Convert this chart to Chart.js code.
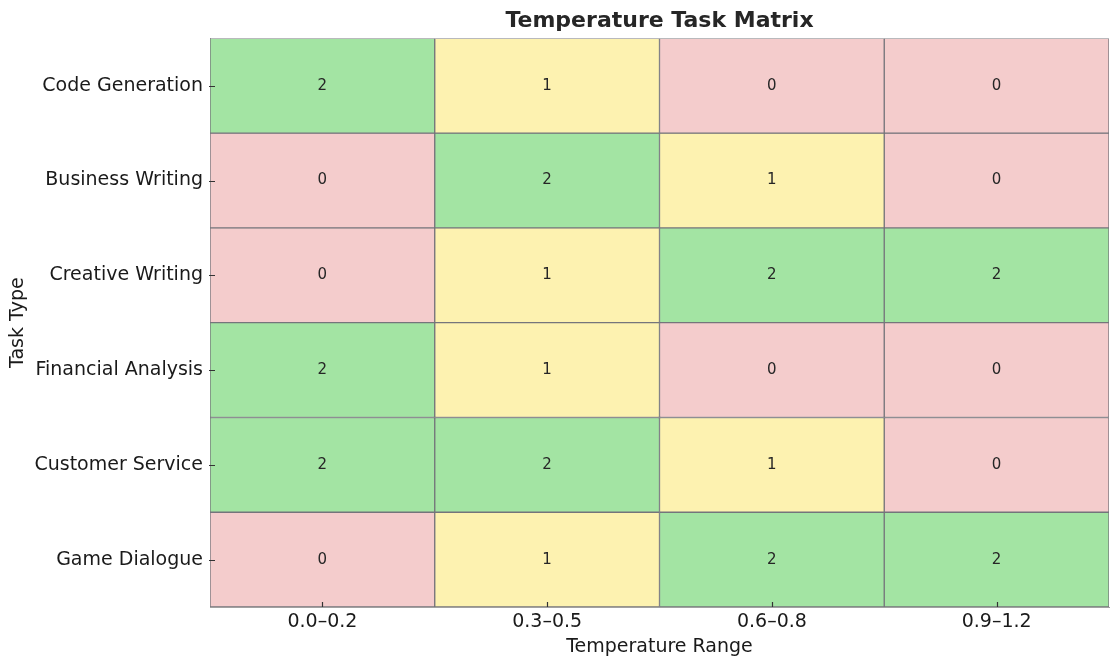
<!DOCTYPE html>
<html>
<head>
<meta charset="utf-8">
<script src="https://cdn.jsdelivr.net/npm/chart.js@4.4.1/dist/chart.umd.min.js"></script>
<style>
  html, body { margin: 0; padding: 0; background: #fff; }
  #wrap { width: 1120px; height: 668px; }
</style>
</head>
<body>
<div id="wrap"><canvas id="matrixChart"></canvas></div>
<script>
const temperatureRanges = ['0.0–0.2', '0.3–0.5', '0.6–0.8', '0.9–1.2'];
const taskTypes = ['Code Generation', 'Business Writing', 'Creative Writing', 'Financial Analysis', 'Customer Service', 'Game Dialogue'];

// suitability score per task, one per temperature range
const codeGeneration = [2, 1, 0, 0];
const businessWriting = [0, 2, 1, 0];
const creativeWriting = [0, 1, 2, 2];
const financialAnalysis = [2, 1, 0, 0];
const customerService = [2, 2, 1, 0];
const gameDialogue = [0, 1, 2, 2];

const scoreRows = [codeGeneration, businessWriting, creativeWriting, financialAnalysis, customerService, gameDialogue];
const scoreColors = ['#f4cccc', '#fdf2b0', '#a3e4a3'];

Chart.defaults.font.family = '"DejaVu Sans", sans-serif';
Chart.defaults.color = '#1a1a1a';

// one floating bar dataset per task row; bars span row i .. i+1
const datasets = scoreRows.map((scores, row) => ({
    label: taskTypes[row],
    data: scores.map(() => [row, row + 1]),
    scores: scores,
    backgroundColor: scores.map(s => scoreColors[s]),
    borderColor: '#75757b',
    borderWidth: 1,
    borderSkipped: false,
    grouped: false,
    barPercentage: 1,
    categoryPercentage: 1,
}));

const cellLabels = {
    id: 'cellLabels',
    afterDatasetsDraw(chart) {
        const ctx = chart.ctx;
        ctx.save();
        ctx.font = '15px "DejaVu Sans", sans-serif';
        ctx.fillStyle = '#262626';
        ctx.textAlign = 'center';
        ctx.textBaseline = 'middle';
        chart.data.datasets.forEach((ds, i) => {
            chart.getDatasetMeta(i).data.forEach((bar, j) => {
                const c = bar.getCenterPoint();
                ctx.fillText(String(ds.scores[j]), c.x, c.y);
            });
        });

        // inward tick marks like the original
        const area = chart.chartArea;
        const xScale = chart.scales.x;
        const yScale = chart.scales.y;
        ctx.strokeStyle = '#333';
        ctx.lineWidth = 1.2;
        ctx.beginPath();
        xScale.ticks.forEach((t, i) => {
            const x = Math.round(xScale.getPixelForTick(i)) + 0.5;
            ctx.moveTo(x, area.bottom);
            ctx.lineTo(x, area.bottom - 5);
        });
        yScale.ticks.forEach((t, i) => {
            const y = Math.round(yScale.getPixelForTick(i)) + 0.5;
            ctx.moveTo(area.left - 1, y);
            ctx.lineTo(area.left + 5, y);
        });
        ctx.stroke();
        ctx.restore();
    }
};

new Chart(document.getElementById('matrixChart'), {
    type: 'bar',
    data: {
        labels: temperatureRanges,
        datasets: datasets
    },
    plugins: [cellLabels],
    options: {
        responsive: true,
        maintainAspectRatio: false,
        animation: false,
        layout: { padding: { left: 0, right: 11, top: 0, bottom: 0 } },
        plugins: {
            legend: { display: false },
            tooltip: { enabled: false },
            title: {
                display: true,
                fullSize: false,
                text: 'Temperature Task Matrix',
                color: '#262626',
                font: { size: 22, weight: 'bold' },
                padding: { top: 8, bottom: 4 }
            }
        },
        scales: {
            x: {
                grid: { display: false, drawTicks: false },
                border: { display: true, color: '#a0a0a0' },
                ticks: { padding: 4, font: { size: 19 }, color: '#1a1a1a' },
                title: {
                    display: true,
                    text: 'Temperature Range',
                    font: { size: 19 },
                    color: '#1a1a1a',
                    padding: { top: 0, bottom: 10 }
                },
                afterFit(scale) { scale.height = 61; }
            },
            y: {
                min: 0,
                max: taskTypes.length,
                reverse: true,
                grid: { display: false, drawTicks: false },
                border: { display: true, color: '#a0a0a0' },
                afterBuildTicks(scale) {
                    scale.ticks = taskTypes.map((t, i) => ({ value: i + 0.5 }));
                },
                ticks: {
                    padding: 7,
                    font: { size: 19 },
                    color: '#1a1a1a',
                    autoSkip: false,
                    callback: (value) => taskTypes[Math.floor(value)]
                },
                title: {
                    display: true,
                    text: 'Task Type',
                    font: { size: 19 },
                    color: '#1a1a1a',
                    padding: { top: 7, bottom: 0 }
                },
                afterFit(scale) { scale.width = 210; }
            }
        }
    }
});
</script>
</body>
</html>
